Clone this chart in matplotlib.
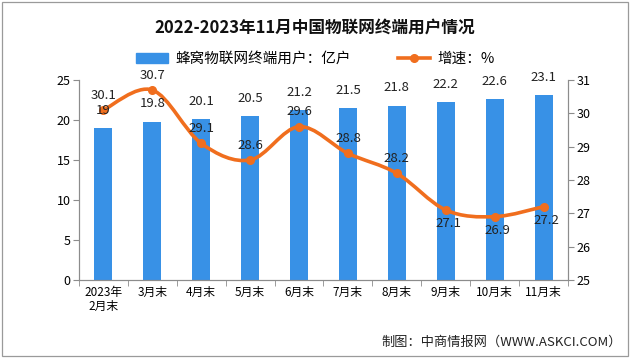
import matplotlib.pyplot as plt
from matplotlib.path import Path
from matplotlib.patches import PathPatch, Rectangle
from matplotlib.lines import Line2D

plt.rcParams['font.family'] = ['Noto Sans CJK SC', 'DejaVu Sans']

months = ['2023年\n2月末', '3月末', '4月末', '5月末', '6月末', '7月末', '8月末', '9月末', '10月末', '11月末']
users = [19, 19.8, 20.1, 20.5, 21.2, 21.5, 21.8, 22.2, 22.6, 23.1]
growth = [30.1, 30.7, 29.1, 28.6, 29.6, 28.8, 28.2, 27.1, 26.9, 27.2]
growth_below = [False, False, False, False, False, False, False, True, True, True]

blue = '#3891e6'
orange = '#f06e1e'
grey = '#8c8c8c'

fig = plt.figure(figsize=(6.4, 3.58), dpi=100)
ax1 = fig.add_axes([0.1234, 0.2179, 0.7641, 0.5586])
ax2 = ax1.twinx()

x = list(range(len(months)))
ax1.bar(x, users, width=0.37, color=blue, zorder=2)

# smooth line (catmull-rom drawn as cubic bezier through the data points)
pts = list(zip(x, growth))
verts = [pts[0]]
codes = [Path.MOVETO]
for i in range(len(pts) - 1):
    p0 = pts[i - 1] if i > 0 else pts[i]
    p1 = pts[i]
    p2 = pts[i + 1]
    p3 = pts[i + 2] if i + 2 < len(pts) else pts[i + 1]
    c1 = (p1[0] + (p2[0] - p0[0]) / 6, p1[1] + (p2[1] - p0[1]) / 6)
    c2 = (p2[0] - (p3[0] - p1[0]) / 6, p2[1] - (p3[1] - p1[1]) / 6)
    verts += [c1, c2, p2]
    codes += [Path.CURVE4] * 3
ax2.add_patch(PathPatch(Path(verts, codes), facecolor='none', edgecolor=orange, lw=2.6, zorder=3))
ax2.plot(x, growth, 'o', color=orange, ms=5.5, zorder=4)
for i, v in enumerate(growth):
    if growth_below[i]:
        ax2.annotate(f'{v:g}', (i, v), xytext=(2, -5), textcoords='offset points',
                     ha='center', va='top', fontsize=9.5, color='#222222', zorder=6)
    else:
        ax2.annotate(f'{v:g}', (i, v), xytext=(0, 6), textcoords='offset points',
                     ha='center', va='bottom', fontsize=9.5, color='#222222', zorder=6)

# bar labels drawn on top of the line
for i, v in enumerate(users):
    ax2.annotate(f'{v:g}', (i, v), xycoords=ax1.transData, xytext=(0, 8),
                 textcoords='offset points', ha='center', va='bottom',
                 fontsize=9.5, color='#222222', zorder=6)

ax1.set_xlim(-0.5, len(months) - 0.5)
ax1.set_ylim(0, 25)
ax1.set_yticks([0, 5, 10, 15, 20, 25])
ax2.set_ylim(25, 31)
ax2.set_yticks([25, 26, 27, 28, 29, 30, 31])

ax1.set_xticks(x)
ax1.set_xticklabels(months, fontsize=8.5, linespacing=1.1)
ax1.set_xticks([i + 0.5 for i in range(-1, len(months))], minor=True)
ax1.tick_params(axis='x', which='major', length=0, pad=4)
ax1.tick_params(axis='x', which='minor', length=4, color=grey)
ax1.tick_params(axis='y', length=4, color=grey, labelsize=9, pad=2)
ax2.tick_params(axis='y', length=4, color=grey, labelsize=9, pad=2)

for ax in (ax1, ax2):
    ax.spines['top'].set_visible(False)
    for s in ('left', 'right', 'bottom'):
        ax.spines[s].set_color(grey)
        ax.spines[s].set_linewidth(0.8)

fig.text(0.492, 0.922, '2022-2023年11月中国物联网终端用户情况', ha='center', va='center',
         fontsize=12, fontweight='bold', color='#111111')

handles = [Rectangle((0, 0), 1, 1, color=blue),
           Line2D([], [], color=orange, lw=2.6, marker='o', ms=5.5)]
fig.legend(handles, ['蜂窝物联网终端用户：亿户', '增速：%'], loc='center', ncol=2,
           bbox_to_anchor=(0.493, 0.835), frameon=False, fontsize=10.5,
           handlelength=2.2, columnspacing=3.2, handletextpad=0.5)

fig.text(0.972, 0.045, '制图：中商情报网（WWW.ASKCI.COM）', ha='right', va='center',
         fontsize=9.5, color='#222222')

fig.patches.append(Rectangle((0.003, 0.006), 0.978, 0.988, transform=fig.transFigure,
                             fill=False, edgecolor='#9a9a9a', lw=0.9))

fig.savefig('out.png', dpi=100)
